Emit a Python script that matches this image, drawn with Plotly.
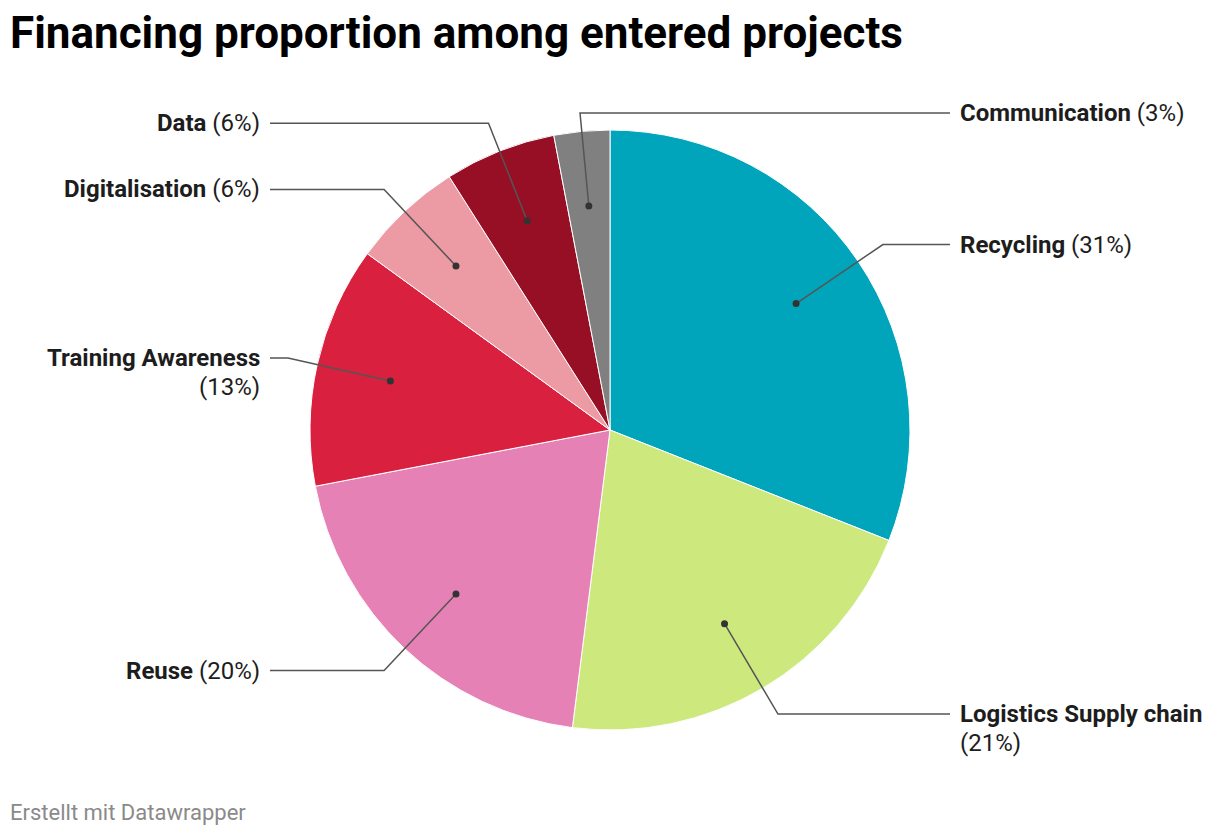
import math
import plotly.graph_objects as go

# Datos del gráfico (porcentaje de financiación)
categorias = ["Recycling", "Logistics Supply chain", "Reuse", "Training Awareness",
              "Digitalisation", "Data", "Communication"]
valores = [31, 21, 20, 13, 6, 6, 3]
etiquetas_pct = ["(31%)", "(21%)", "(20%)", "(13%)", "(6%)", "(6%)", "(3%)"]
colores = ["#00a5bc", "#cde97e", "#e681b6", "#d9203e", "#ec9ba5", "#960f24", "#808080"]

# Etiquetas que van en dos líneas
DOS_LINEAS = {"Training Awareness", "Logistics Supply chain"}
# Ajuste vertical de la etiqueta (px) y lado forzado para evitar solapes
AJUSTE_Y = {"Communication": 11.5}
LADO_DERECHO = {"Communication"}

W, H = 1220, 836
OFF = 8  # margen del body en la página
CX, CY, R = 610, 430, 300
FUENTE = "Roboto"
COLOR_TEXTO = "#1d1d1d"

fig = go.Figure()

fig.add_trace(
    go.Pie(
        labels=categorias,
        values=valores,
        sort=False,
        direction="clockwise",
        rotation=0,
        marker=dict(colors=colores, line=dict(color="white", width=1)),
        textinfo="none",
        hoverinfo="label+percent",
        showlegend=False,
        domain=dict(x=[(CX - OFF - R) / W, (CX - OFF + R) / W],
                    y=[(H - (CY - OFF) - R) / H, (H - (CY - OFF) + R) / H]),
    )
)

# Eje invisible en píxeles (coordenadas de pantalla) para las líneas guía
fig.add_trace(go.Scatter(x=[OFF, W + OFF], y=[OFF, H + OFF], mode="markers",
                         marker=dict(opacity=0), hoverinfo="skip", showlegend=False))

total = sum(valores)
acum = 0
for cat, val, pct in zip(categorias, valores, etiquetas_pct):
    frac = (acum + val / 2) / total
    acum += val
    ang = 2 * math.pi * frac
    s, c = math.sin(ang), math.cos(ang)

    # punto dentro del sector
    px, py = CX + 0.75 * R * s, CY - 0.75 * R * c
    # codo sobre el radio medio
    ly = CY - 1.1 * R * c + AJUSTE_Y.get(cat, 0)
    t = (CY - ly) / c if abs(c) > 1e-6 else 1.1 * R
    ex, ey = CX + t * s, ly
    derecha = s >= 0 or cat in LADO_DERECHO
    fx = CX + 340 if derecha else CX - 340

    fig.add_shape(type="path", xref="x", yref="y", layer="above",
                  path=f"M {px},{py} L {ex},{ey} L {fx},{ey}",
                  line=dict(color="#555555", width=1.5))
    fig.add_shape(type="circle", xref="x", yref="y", layer="above",
                  x0=px - 3.5, x1=px + 3.5, y0=py - 3.5, y1=py + 3.5,
                  fillcolor="#333333", line=dict(width=0))

    if cat in DOS_LINEAS:
        lineas = [f"<b>{cat}</b>", pct]
    else:
        lineas = [f"<b>{cat}</b> {pct}"]
    for i, texto in enumerate(lineas):
        fig.add_annotation(
            x=fx + 8 if derecha else fx - 8, y=ey + 29 * i, xref="x", yref="y",
            text=texto, showarrow=False,
            xanchor="left" if derecha else "right", yanchor="middle",
            font=dict(family=FUENTE, size=24, color=COLOR_TEXTO),
        )

# Título y pie de fuente
fig.add_annotation(
    x=8, y=33, xref="x", yref="y", text="<b>Financing proportion among entered projects</b>",
    showarrow=False, xanchor="left", yanchor="middle",
    font=dict(family=FUENTE, size=44, color="#000000"),
)
fig.add_annotation(
    x=8, y=812, xref="x", yref="y", text="Erstellt mit Datawrapper",
    showarrow=False, xanchor="left", yanchor="middle",
    font=dict(family=FUENTE, size=22, color="#8a8a8a"),
)

fig.update_xaxes(range=[OFF, W + OFF], visible=False, fixedrange=True)
fig.update_yaxes(range=[H + OFF, OFF], visible=False, fixedrange=True)

fig.update_layout(
    width=W, height=H,
    margin=dict(l=0, r=0, t=0, b=0),
    paper_bgcolor="white",
    plot_bgcolor="rgba(0,0,0,0)",
    font=dict(family=FUENTE),
)

fig.write_html("out.html")
